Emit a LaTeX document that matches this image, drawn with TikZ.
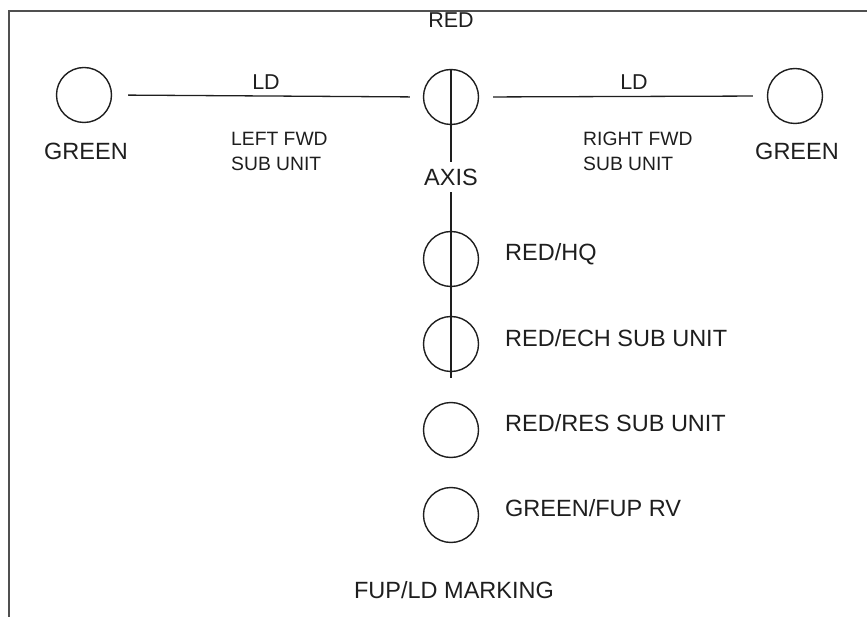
\documentclass[tikz,border=0pt]{standalone}
\usepackage{fontspec}
\setmainfont{Liberation Sans}
\definecolor{ink}{HTML}{1E1E1E}
\definecolor{framec}{HTML}{505050}
\begin{document}
\begin{tikzpicture}[x=1pt,y=-1pt,
  unit/.style={circle,draw=ink,line width=1.4pt,minimum size=55pt,inner sep=0pt},
  bigtxt/.style={text=ink,font=\fontsize{23.5}{26}\selectfont,inner sep=0pt},
  midtxt/.style={text=ink,font=\fontsize{21.5}{24}\selectfont,inner sep=0pt},
  smalltxt/.style={text=ink,font=\fontsize{19.3}{25}\selectfont,inner sep=0pt,align=left},
  conn/.style={draw=ink,line width=1.3pt},
  framel/.style={draw=framec,line width=2.6pt}]
\useasboundingbox (0,0) rectangle (867,617);
\draw[framel] (9,618) -- (9,11) -- (868,11);
% top row
\node[unit] (gl) at (84,95) {};
\node[unit] (red) at (451,97) {};
\node[unit] (gr) at (795,96) {};
\node[midtxt] (redl) at (451,20) {RED};
\node[bigtxt] (gll) at (86,151) {GREEN};
\node[bigtxt] (grl) at (797,151) {GREEN};
\node[midtxt] (ld1) at (266,82) {LD};
\node[midtxt] (ld2) at (634,82) {LD};
\node[smalltxt,anchor=west] (lfwd) at (231,151) {LEFT FWD\\SUB UNIT};
\node[smalltxt,anchor=west] (rfwd) at (583,151) {RIGHT FWD\\SUB UNIT};
\draw[conn,shorten <=16pt,shorten >=13pt] (gl.east) -- (red.west);
\draw[conn,shorten <=14pt,shorten >=14pt] (red.east) -- (gr.west);
% axis
\node[bigtxt,minimum height=30pt] (axis) at (451,177) {AXIS};
\node[unit] (hq) at (451,259) {};
\node[unit] (ech) at (451,344) {};
\node[unit] (res) at (451,430) {};
\node[unit] (fup) at (451,515) {};
\coordinate (axend) at (451,378);
\draw[conn] (red.north) -- (axis.north);
\draw[conn] (axis.south) -- (axend);
\node[bigtxt,anchor=west] (hql) at (505,254) {RED/HQ};
\node[bigtxt,anchor=west] (echl) at (505,338) {RED/ECH SUB UNIT};
\node[bigtxt,anchor=west] (resl) at (505,423) {RED/RES SUB UNIT};
\node[bigtxt,anchor=west] (fupl) at (505,508) {GREEN/FUP RV};
\node[bigtxt] (mark) at (454,590) {FUP/LD MARKING};
\end{tikzpicture}
\end{document}
